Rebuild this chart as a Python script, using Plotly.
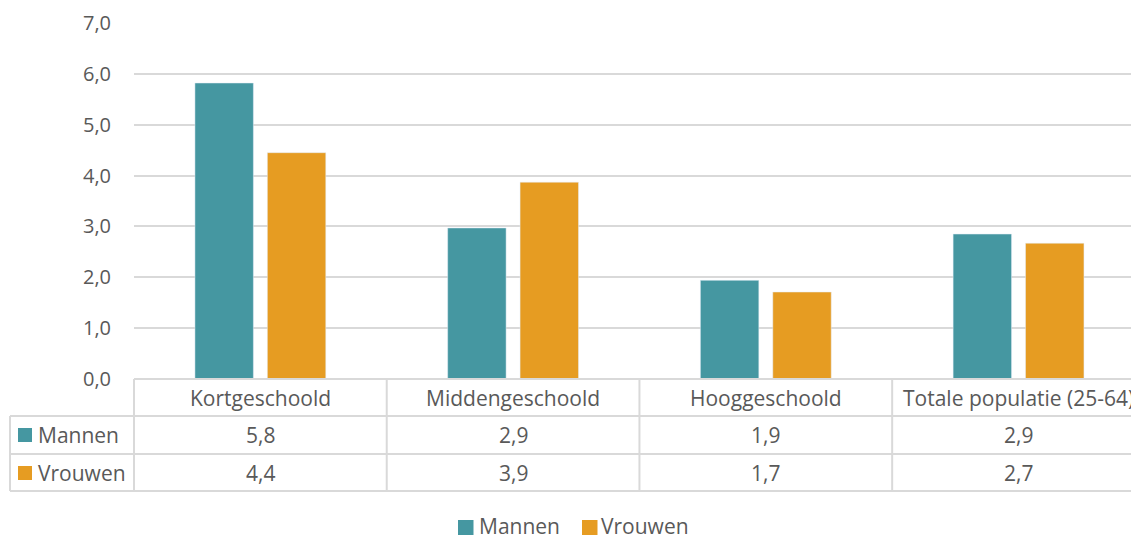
import plotly.graph_objects as go

# ---- data ----
categories = ["Kortgeschoold", "Middengeschoold", "Hooggeschoold", "Totale populatie (25-64)"]
series_names = ["Mannen", "Vrouwen"]
mannen = [5.82, 2.97, 1.94, 2.85]
vrouwen = [4.45, 3.87, 1.71, 2.67]
mannen_labels = ["5,8", "2,9", "1,9", "2,9"]
vrouwen_labels = ["4,4", "3,9", "1,7", "2,7"]
y_ticks = [0, 1, 2, 3, 4, 5, 6, 7]

# ---- style ----
C_M = "#4597A1"
C_V = "#E69C22"
TXT = "#595959"
GRID = "#D9D9D9"
FONT = "Open Sans"
FS = 21

W, H = 1131, 536
ML, MR, MT, MB = 134, 0, 23, 157
XR = [-0.5, 3.445]

def py(p):
    return (H - MB - p) / (H - MT - MB)

def pxp(p):
    return (p - ML) / (W - ML - MR)

def xv(v):
    return (v - XR[0]) / (XR[1] - XR[0])

fig = go.Figure()
colors = [C_M, C_V]
for name, vals, col in zip(series_names, (mannen, vrouwen), colors):
    fig.add_trace(go.Bar(x=categories, y=vals, name=name, marker_color=col, showlegend=False))

shapes = []
line = dict(color=GRID, width=2)
right = 1.05
# horizontal table lines
shapes.append(dict(type="line", xref="paper", yref="paper", x0=0, x1=right, y0=py(379), y1=py(379), line=line))
for yy in (416, 454, 491):
    shapes.append(dict(type="line", xref="paper", yref="paper", x0=pxp(10), x1=right, y0=py(yy), y1=py(yy), line=line))
# vertical table lines
shapes.append(dict(type="line", xref="paper", yref="paper", x0=0, x1=0, y0=py(379), y1=py(491), line=line))
shapes.append(dict(type="line", xref="paper", yref="paper", x0=pxp(10), x1=pxp(10), y0=py(416), y1=py(491), line=line))
for i in range(len(categories) - 1):
    xx = xv(i + 0.5)
    shapes.append(dict(type="line", xref="paper", yref="paper", x0=xx, x1=xx, y0=py(379), y1=py(491), line=line))
# legend keys in table
for (y0, y1), col in zip(((428, 442), (466, 480)), colors):
    shapes.append(dict(type="rect", xref="paper", yref="paper", x0=pxp(18), x1=pxp(32), y0=py(y1), y1=py(y0),
                       fillcolor=col, line=dict(width=0)))
# bottom legend keys
for x0, col in zip((458, 582), colors):
    shapes.append(dict(type="rect", xref="paper", yref="paper", x0=pxp(x0), x1=pxp(x0 + 15.5), y0=py(535), y1=py(520),
                       fillcolor=col, line=dict(width=0)))

tf = dict(size=FS, color=TXT, family=FONT)
annotations = []
for i, c in enumerate(categories):
    annotations.append(dict(x=xv(i), y=py(397.5), xref="paper", yref="paper", text=c, showarrow=False,
                            xanchor="center", yanchor="middle", font=tf))
    annotations.append(dict(x=xv(i), y=py(435), xref="paper", yref="paper", text=mannen_labels[i], showarrow=False,
                            xanchor="center", yanchor="middle", font=tf))
    annotations.append(dict(x=xv(i), y=py(473), xref="paper", yref="paper", text=vrouwen_labels[i], showarrow=False,
                            xanchor="center", yanchor="middle", font=tf))
for name, yy in zip(series_names, (435, 473)):
    annotations.append(dict(x=pxp(36), y=py(yy), xref="paper", yref="paper", text=name, showarrow=False,
                            xanchor="left", yanchor="middle", font=tf))
for name, xx in zip(series_names, (477, 599)):
    annotations.append(dict(x=pxp(xx), y=py(526), xref="paper", yref="paper", text=name, showarrow=False,
                            xanchor="left", yanchor="middle", font=tf))

fig.update_layout(
    width=W, height=H,
    margin=dict(l=ML, r=MR, t=MT, b=MB),
    paper_bgcolor="white", plot_bgcolor="white",
    barmode="group", bargap=0.427, bargroupgap=0.193,
    separators=",.",
    font=dict(family=FONT, size=FS, color=TXT),
    showlegend=False,
    xaxis=dict(range=XR, showticklabels=False, showgrid=False, zeroline=False, showline=False, ticks=""),
    yaxis=dict(range=[0, 7], tickvals=y_ticks, tickformat=".1f", showgrid=True, gridcolor=GRID, gridwidth=2,
               zeroline=False, showline=False, ticks="", ticklabelstandoff=22, automargin=False,
               tickfont=dict(size=20, color=TXT, family=FONT)),
    shapes=shapes, annotations=annotations,
)

fig.write_html("out.html", config={"displayModeBar": False},
               post_script="document.body.style.margin='0';")
